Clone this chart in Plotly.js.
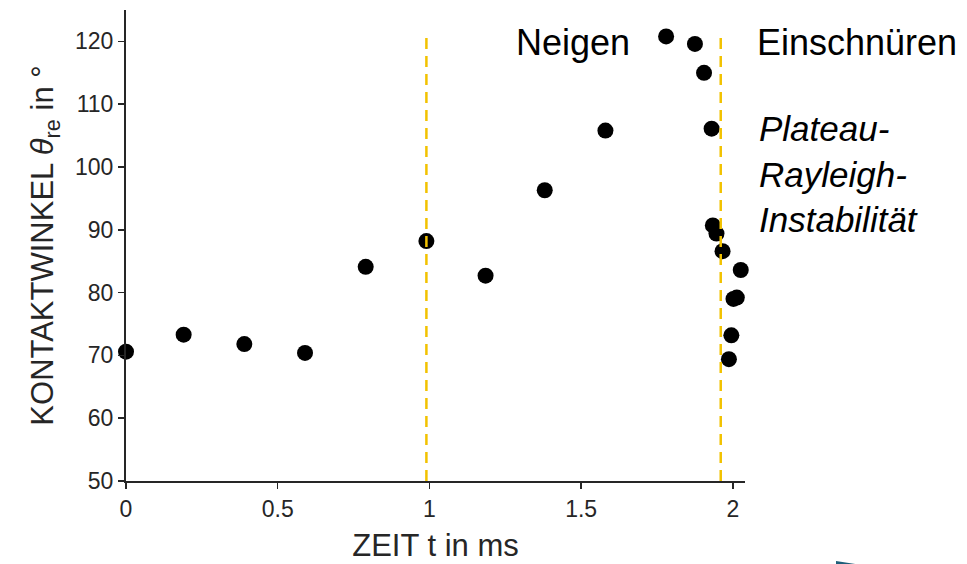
<!DOCTYPE html>
<html>
<head>
<meta charset="utf-8">
<script src="https://cdn.plot.ly/plotly-3.0.1.min.js"></script>
<style>html,body{margin:0;padding:0;background:#fff;}#chart{width:967px;height:564px;}</style>
</head>
<body>
<div id="chart"></div>
<script>
// Measured data
const timeMs = [0.00, 0.19, 0.39, 0.59, 0.79, 0.99, 1.185, 1.38, 1.58, 1.78, 1.875, 1.905, 1.93,
                1.934, 1.946, 1.966, 2.026, 2.013, 2.002, 1.995, 1.987];
const contactAngle = [70.6, 73.3, 71.8, 70.4, 84.1, 88.2, 82.7, 96.3, 105.8, 120.8, 119.6, 115.0, 106.1,
                      90.7, 89.4, 86.6, 83.6, 79.2, 79.0, 73.2, 69.4];
const phaseLinesX = [0.99, 1.96];
const xTickVals = [0, 0.5, 1, 1.5, 2];
const xTickText = ["0", "0.5", "1", "1.5", "2"];
const yTickVals = [50, 60, 70, 80, 90, 100, 110, 120];

const axisColor = '#262626';
const data = [{
  x: timeMs, y: contactAngle, type: 'scatter', mode: 'markers',
  marker: {color: '#000000', size: 16}, hoverinfo: 'skip', showlegend: false, cliponaxis: false
}];

const shapes = phaseLinesX.map(v => ({
  type: 'line', xref: 'x', yref: 'y', x0: v, x1: v, y0: 50, y1: 121.5,
  line: {color: '#F2C200', width: 2.5, dash: '11px,7px'}
}));
shapes.push({
  type: 'path', xref: 'paper', yref: 'paper',
  path: 'M 1.147 -0.170 L 1.178 -0.176 L 1.147 -0.176 Z',
  fillcolor: '#1f5f7a', line: {width: 0}
});

const layout = {
  width: 967, height: 564,
  margin: {l: 126, r: 222, t: 10, b: 83},
  paper_bgcolor: '#ffffff', plot_bgcolor: '#ffffff',
  font: {family: 'Liberation Sans, Arial, sans-serif', color: axisColor},
  showlegend: false,
  xaxis: {
    range: [0, 2.04], tickvals: xTickVals, ticktext: xTickText,
    showgrid: false, zeroline: false, showline: true, linecolor: axisColor, linewidth: 2,
    ticks: 'outside', ticklen: 6, tickwidth: 1.5, tickcolor: axisColor,
    tickfont: {size: 23, color: axisColor},
    title: {text: 'ZEIT t in ms', font: {size: 31, color: axisColor}, standoff: 14}
  },
  yaxis: {
    range: [50, 125], tickvals: yTickVals,
    showgrid: false, zeroline: false, showline: true, linecolor: axisColor, linewidth: 2,
    ticks: 'outside', ticklen: 6, tickwidth: 1.5, tickcolor: axisColor,
    tickfont: {size: 23, color: axisColor},
    title: {text: 'KONTAKTWINKEL <i>θ</i><sub>re</sub> in °', font: {size: 31, color: axisColor}, standoff: 12}
  },
  shapes: shapes,
  annotations: [
    {xref: 'x', yref: 'y', x: 1.666, y: 119.9, text: 'Neigen', showarrow: false,
     xanchor: 'right', yanchor: 'middle', font: {size: 36, color: '#000'}},
    {xref: 'x', yref: 'y', x: 2.0, xshift: 22, y: 119.9, text: 'Einschnüren', showarrow: false,
     xanchor: 'left', yanchor: 'middle', font: {size: 36, color: '#000'}},
    {xref: 'x', yref: 'y', x: 2.0, xshift: 24, y: 98.9, text: '<i>Plateau-<br>Rayleigh-<br>Instabilität</i>', showarrow: false,
     xanchor: 'left', yanchor: 'middle', align: 'left', font: {size: 35, color: '#000'}}
  ]
};

Plotly.newPlot('chart', data, layout, {displayModeBar: false, staticPlot: true});
</script>
</body>
</html>
